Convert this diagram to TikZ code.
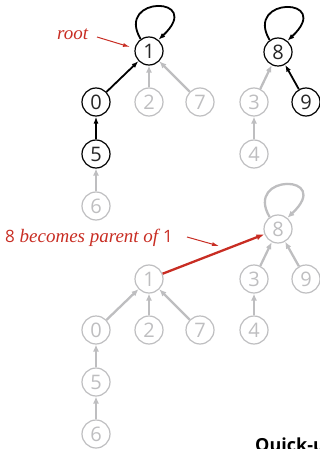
\documentclass[tikz,border=0pt]{standalone}
\usepackage{fontspec}
\setmainfont{Liberation Serif}
\newfontfamily\digitfont{Open Sans}
\newfontfamily\headfont{Open Sans}
\usetikzlibrary{arrows.meta}
\definecolor{lightg}{RGB}{190,190,192}
\definecolor{annred}{RGB}{200,45,35}
\tikzset{
  nd/.style={circle,draw,line width=1.2pt,minimum size=28pt,inner sep=0pt,font=\digitfont\fontsize{20}{20}\selectfont},
  blk/.style={nd,draw=black,text=black!85},
  gry/.style={nd,draw=lightg,text=lightg},
  blkarr/.style={line width=1.8pt,black,-{Latex[length=7pt,width=5pt]}},
  gryarr/.style={line width=2.3pt,lightg,-{Latex[length=7pt,width=6pt]}},
  redarr/.style={line width=2.3pt,annred,-{Latex[length=8pt,width=6pt]}},
  thinred/.style={line width=1pt,annred,-{Latex[length=7pt,width=4pt]}},
  lbl/.style={annred,font=\fontsize{19}{19}\selectfont\itshape}
}
\begin{document}
\begin{tikzpicture}[x=1pt,y=-1pt]
\useasboundingbox (0,0) rectangle (320,449);
\clip (0,0) rectangle (320,449);
% top forest
\node[blk] (a1) at (149,51) {1};
\node[blk] (a0) at (96,102) {0};
\node[gry] (a2) at (149,102) {2};
\node[gry] (a7) at (200,102) {7};
\node[blk] (a5) at (96,154) {5};
\node[gry] (a6) at (96,206) {6};
\node[blk] (a8) at (278,52) {8};
\node[gry] (a3) at (254,102) {3};
\node[blk] (a9) at (306,102) {9};
\node[gry] (a4) at (254,154) {4};
\draw[blkarr] (a1.125) .. controls +(-26,-44) and +(47,-44) .. (a1.50);
\draw[blkarr] (a8.125) .. controls +(-26,-44) and +(47,-44) .. (a8.50);
\draw[blkarr] (a0) -- (a1);
\draw[blkarr] (a5) -- (a0);
\draw[gryarr] (a6) -- (a5);
\draw[gryarr] (a2) -- (a1);
\draw[gryarr] (a7) -- (a1);
\draw[gryarr] (a3) -- (a8);
\draw[blkarr] (a9) -- (a8);
\draw[gryarr] (a4) -- (a3);
\node[lbl,anchor=base west,inner sep=0pt] (rootlbl) at (57,40) {root};
\coordinate (rootstart) at (97,37);
\coordinate (rootend) at (130,47);
\draw[thinred] (rootstart) -- (rootend);
% bottom forest
\node[gry] (b8) at (278,229) {8};
\node[gry] (b1) at (149,279) {1};
\node[gry] (b3) at (254,279) {3};
\node[gry] (b9) at (306,279) {9};
\node[gry] (b0) at (96,330) {0};
\node[gry] (b2) at (149,330) {2};
\node[gry] (b7) at (200,330) {7};
\node[gry] (b4) at (254,330) {4};
\node[gry] (b5) at (96,382) {5};
\node[gry] (b6) at (96,434) {6};
\draw[gryarr] (b8.125) .. controls +(-26,-44) and +(47,-44) .. (b8.50);
\draw[gryarr] (b0) -- (b1);
\draw[gryarr] (b2) -- (b1);
\draw[gryarr] (b7) -- (b1);
\draw[gryarr] (b5) -- (b0);
\draw[gryarr] (b6) -- (b5);
\draw[gryarr] (b3) -- (b8);
\draw[gryarr] (b9) -- (b8);
\draw[gryarr] (b4) -- (b3);
\draw[redarr] (b1) -- (b8);
\node[lbl,anchor=base west,inner sep=0pt] (parlbl) at (5,242) {{\digitfont\upshape\fontsize{17}{17}\selectfont 8} becomes parent of {\digitfont\upshape\fontsize{17}{17}\selectfont 1}};
\coordinate (parstart) at (187,237);
\coordinate (parend) at (219,246);
\draw[thinred] (parstart) -- (parend);
\node[anchor=north west,inner sep=0pt,font=\headfont\bfseries\fontsize{18}{18}\selectfont] (head) at (255,438) {Quick-u};
\end{tikzpicture}
\end{document}
